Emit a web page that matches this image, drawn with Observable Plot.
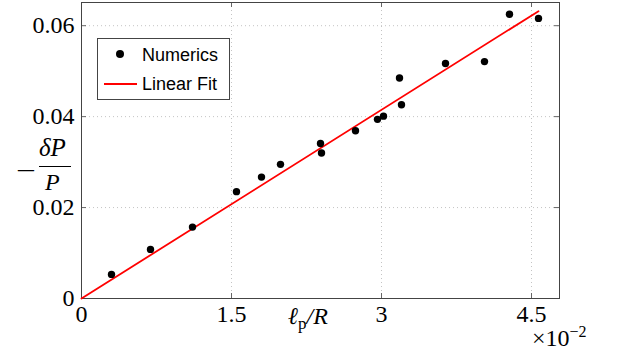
<!DOCTYPE html>
<html><head><meta charset="utf-8">
<script src="https://cdn.jsdelivr.net/npm/d3@7"></script>
<script src="https://cdn.jsdelivr.net/npm/@observablehq/plot@0.6"></script>
<style>
body{margin:0;background:#fff;}
#wrap{position:relative;width:622px;height:350px;overflow:hidden;font-family:"Liberation Serif","DejaVu Serif",serif;color:#000;}
#wrap svg{position:absolute;left:0;top:0;}
.t{position:absolute;white-space:nowrap;line-height:0.8;}
</style></head><body>
<div id="wrap"></div>
<script>
// Numerics (x in units of 1e-2)
const numX = [0.30, 0.69, 1.11, 1.55, 1.80, 1.99, 2.39, 2.40, 2.74, 2.96, 3.02, 3.18, 3.20, 3.64, 4.03, 4.28, 4.57];
const numY = [0.0053, 0.0108, 0.0157, 0.0235, 0.0267, 0.0295, 0.0341, 0.0320, 0.0369, 0.0394, 0.0401, 0.0485, 0.0426, 0.0517, 0.0521, 0.0625, 0.0616];
// Linear fit
const fitX = [0, 4.57];
const fitY = [0, 0.0632];
const xTicks = [0, 1.5, 3, 4.5];
const xTickLabels = ["0", "1.5", "3", "4.5"];
const yTicks = [0, 0.02, 0.04, 0.06];
const yTickLabels = ["0", "0.02", "0.04", "0.06"];
const legendLabels = ["Numerics", "Linear Fit"];

const W = 622, H = 350, mL = 81, mR = 63, mT = 2, mB = 52;
const pw = W - mL - mR, ph = H - mT - mB;
const points = numX.map((x, i) => ({x, y: numY[i]}));
const fit = fitX.map((x, i) => ({x, y: fitY[i]}));
const tickCol = "#666";

const chart = Plot.plot({
  width: W, height: H,
  marginLeft: mL, marginRight: mR, marginTop: mT, marginBottom: mB,
  style: {fontFamily: '"Liberation Serif","DejaVu Serif",serif', fontSize: "24px", background: "white", color: "black"},
  x: {domain: [0, 4.78], label: null},
  y: {domain: [0, 0.0651], label: null},
  marks: [
    Plot.gridX(xTicks.slice(1), {stroke: "#c4c4c4", strokeOpacity: 1, strokeDasharray: "1,3"}),
    Plot.gridY(yTicks.slice(1), {stroke: "#c4c4c4", strokeOpacity: 1, strokeDasharray: "1,3"}),
    Plot.tickX(xTicks, {x: d => d, insetTop: ph - 5, stroke: tickCol}),
    Plot.tickX(xTicks, {x: d => d, insetBottom: ph - 5, stroke: tickCol}),
    Plot.tickY(yTicks, {y: d => d, insetRight: pw - 5, stroke: tickCol}),
    Plot.tickY(yTicks, {y: d => d, insetLeft: pw - 5, stroke: tickCol}),
    Plot.frame({stroke: "#444", strokeWidth: 1}),
    Plot.axisX({ticks: xTicks, tickSize: 0, tickPadding: 6, tickFormat: d => xTickLabels[xTicks.indexOf(d)], fontSize: 24}),
    Plot.axisY({ticks: yTicks, tickSize: 0, tickPadding: 7, tickFormat: d => yTickLabels[yTicks.indexOf(d)], fontSize: 24}),
    Plot.line(fit, {x: "x", y: "y", stroke: "#ff0000", strokeWidth: 1.8}),
    Plot.dot(points, {x: "x", y: "y", r: 3.7, fill: "black", stroke: "none"})
  ]
});

const wrap = document.getElementById("wrap");
wrap.appendChild(chart);

function add(html, css) {
  const d = document.createElement("div");
  d.className = "t";
  d.innerHTML = html;
  Object.assign(d.style, css);
  wrap.appendChild(d);
  return d;
}

// Legend
add("", {left: "97px", top: "38px", width: "133px", height: "62px", border: "1px solid #444", background: "white", boxSizing: "border-box"});
add("", {left: "116px", top: "50px", width: "8px", height: "8px", borderRadius: "50%", background: "black"});
add(legendLabels[0], {left: "142px", top: "48px", fontFamily: '"Liberation Sans",Arial,sans-serif', fontSize: "18px"});
add("", {left: "104px", top: "83px", width: "33px", height: "2px", background: "#ff0000"});
add(legendLabels[1], {left: "142px", top: "77px", fontFamily: '"Liberation Sans",Arial,sans-serif', fontSize: "18px"});

// Y label: -δP/P
add("&minus;", {left: "16px", top: "161px", fontSize: "25px", transform: "scaleX(1.4)", transformOrigin: "left center"});
add("<i>δP</i>", {left: "39px", top: "138px", fontSize: "25px"});
add("", {left: "39px", top: "166px", width: "32px", height: "1.4px", background: "black"});
add("<i>P</i>", {left: "45px", top: "173px", fontSize: "24px", lineHeight: "0.75"});

// X label: ℓp/R
add("<i>ℓ</i><span style='font-size:17px;position:relative;top:5px'>p</span><i>/R</i>", {left: "288px", top: "307px", fontSize: "24px"});

// ×10^-2
add("×10<span style='font-size:16px;position:relative;top:-9px'>−2</span>", {left: "532px", top: "329px", fontSize: "24px", lineHeight: "0.75"});
</script>
</body></html>
